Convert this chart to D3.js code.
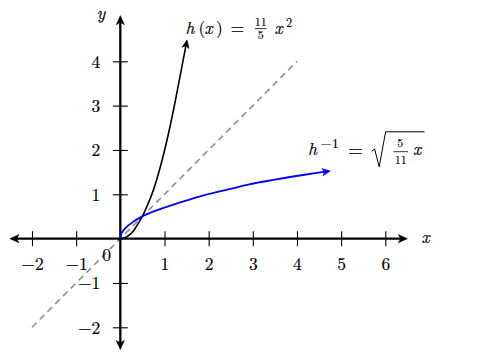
<!DOCTYPE html>
<html>
<head>
<meta charset="utf-8">
<script src="https://cdn.jsdelivr.net/npm/d3@7"></script>
<style>
  html, body { margin: 0; padding: 0; background: #fff; }
  svg { display: block; }
</style>
</head>
<body>
<svg id="chart" width="477" height="359"></svg>
<script>
// ---- data ----
const xTicks = [-2, -1, 1, 2, 3, 4, 5, 6];
const yTicks = [-2, -1, 1, 2, 3, 4];
const xAxisRange = [-2.5, 6.5];
const yAxisRange = [-2.5, 5.03];

// h(x) = 11/5 x^2 (black)
const hX = [0, 0.1, 0.2, 0.3, 0.475, 0.6, 0.75, 0.9, 1.056, 1.21, 1.35, 1.51];
const hY = [0, 0.02, 0.08, 0.18, 0.46, 0.72, 1.1, 1.6, 2.22, 2.93, 3.65, 4.48];

// h^{-1} = sqrt(5/11 x) (blue)
const invX = [0, 0.01, 0.05, 0.12, 0.25, 0.475, 0.8, 1.3, 1.81, 2.4, 2.94, 3.5, 4.1, 4.755];
const invY = [0, 0.075, 0.16, 0.245, 0.35, 0.49, 0.63, 0.8, 0.955, 1.1, 1.23, 1.33, 1.43, 1.525];

// y = x (dashed gray)
const idX = [-2, 4];
const idY = [-2, 4];

// ---- drawing ----
const FONT = '"Latin Modern Roman", "Liberation Serif", serif';
const TEXT_STROKE = 0.2;
const svg = d3.select("#chart");
const x = d3.scaleLinear().domain([-2, 6]).range([32, 385.3]);
const y = d3.scaleLinear().domain([-2, 4]).range([327.3, 61.3]);
const x0 = x(0), y0 = y(0);
const fmt = d => (d < 0 ? "\u2212" + Math.abs(d) : String(d));

function arrowHead(tipX, tipY, angle, len, half, color) {
  const p = `M0,0 L${-len},${-half} L${-len * 0.72},0 L${-len},${half} Z`;
  svg.append("path")
    .attr("d", p)
    .attr("fill", color)
    .attr("stroke", color)
    .attr("stroke-width", 0.6)
    .attr("stroke-linejoin", "round")
    .attr("transform", `translate(${tipX},${tipY}) rotate(${angle * 180 / Math.PI})`);
}

// dashed identity line
const line = d3.line().x(d => x(d[0])).y(d => y(d[1]));
svg.append("path")
  .datum(d3.zip(idX, idY))
  .attr("d", line)
  .attr("fill", "none")
  .attr("stroke", "#8e8e8e")
  .attr("stroke-width", 1.6)
  .attr("stroke-dasharray", "6.5,4.5");

// axes (ticks through d3 axes)
const gx = svg.append("g")
  .attr("transform", `translate(0,${y0})`)
  .call(d3.axisBottom(x).tickValues(xTicks).tickFormat(fmt).tickSizeOuter(0));
gx.select(".domain").remove();
gx.selectAll(".tick line").attr("y1", -7.5).attr("y2", 7.5).attr("stroke", "#000").attr("stroke-width", 1.1);
gx.selectAll(".tick text").attr("y", 31.4).attr("dy", 0).attr("fill", "#000")
  .attr("stroke", "#000").attr("stroke-width", TEXT_STROKE)
  .style("font-family", FONT).style("font-size", "17.5px");

const gy = svg.append("g")
  .attr("transform", `translate(${x0},0)`)
  .call(d3.axisLeft(y).tickValues(yTicks).tickFormat(fmt).tickSizeOuter(0));
gy.select(".domain").remove();
gy.selectAll(".tick line").attr("x1", -7.5).attr("x2", 7.5).attr("stroke", "#000").attr("stroke-width", 1.1);
gy.selectAll(".tick text").attr("x", -20).attr("dy", 6).attr("text-anchor", "end").attr("fill", "#000")
  .attr("stroke", "#000").attr("stroke-width", TEXT_STROKE)
  .style("font-family", FONT).style("font-size", "17.5px");

// axis lines with arrowheads on both ends
const axLen = 9, axHalf = 4;
svg.append("line")
  .attr("x1", x(xAxisRange[0]) + 6).attr("x2", x(xAxisRange[1]) - 6)
  .attr("y1", y0).attr("y2", y0)
  .attr("stroke", "#000").attr("stroke-width", 2.3);
arrowHead(x(xAxisRange[0]), y0, Math.PI, axLen, axHalf, "#000");
arrowHead(x(xAxisRange[1]), y0, 0, axLen, axHalf, "#000");
svg.append("line")
  .attr("x1", x0).attr("x2", x0)
  .attr("y1", y(yAxisRange[0]) - 6).attr("y2", y(yAxisRange[1]) + 6)
  .attr("stroke", "#000").attr("stroke-width", 2.3);
arrowHead(x0, y(yAxisRange[0]), Math.PI / 2, axLen, axHalf, "#000");
arrowHead(x0, y(yAxisRange[1]), -Math.PI / 2, axLen, axHalf, "#000");

// curves
const curve = d3.line().x(d => x(d[0])).y(d => y(d[1])).curve(d3.curveCatmullRom.alpha(0.5));
function drawCurve(xs, ys, color, width) {
  const pts = d3.zip(xs, ys);
  const n = pts.length;
  const a = pts[n - 2], b = pts[n - 1];
  const ang = Math.atan2(y(b[1]) - y(a[1]), x(b[0]) - x(a[0]));
  const path = svg.append("path")
    .datum(pts)
    .attr("d", curve)
    .attr("fill", "none")
    .attr("stroke", color)
    .attr("stroke-width", width)
    .attr("stroke-linecap", "butt");
  const L = path.node().getTotalLength();
  path.attr("stroke-dasharray", `${L - 5},1000`);
  arrowHead(x(b[0]), y(b[1]), ang, 8, 3.6, color);
}
drawCurve(hX, hY, "#000", 1.6);
drawCurve(invX, invY, "#0000ff", 1.8);

// text helper
function txt(px, py, s, opt = {}) {
  const t = svg.append("text")
    .attr("x", px).attr("y", py)
    .attr("text-anchor", opt.anchor || "start")
    .attr("fill", "#000")
    .attr("stroke", "#000")
    .attr("stroke-width", opt.size && opt.size < 14 ? 0.15 : TEXT_STROKE)
    .style("font-family", FONT)
    .style("font-size", (opt.size || 17.5) + "px")
    .text(s);
  if (opt.italic) t.style("font-style", "italic");
  if (opt.len) t.attr("textLength", opt.len).attr("lengthAdjust", "spacingAndGlyphs");
  return t;
}

// axis titles and origin label
txt(101, 18.5, "y", { italic: true, anchor: "middle" });
txt(425.5, 243, "x", { italic: true, anchor: "middle" });
txt(106.7, 261, "0", { anchor: "middle" });

// label h(x) = 11/5 x^2
txt(185.5, 34, "h", { italic: true });
txt(198.5, 34, "(");
txt(204.5, 34, "x", { italic: true });
txt(216, 34, ")");
txt(230.5, 34, "=", { len: 14 });
txt(260.8, 26, "11", { size: 12, anchor: "middle" });
svg.append("line").attr("x1", 255).attr("x2", 266.5).attr("y1", 28.6).attr("y2", 28.6)
  .attr("stroke", "#000").attr("stroke-width", 0.8);
txt(260.8, 38.5, "5", { size: 12, anchor: "middle" });
txt(274.5, 34, "x", { italic: true });
txt(286, 26.5, "2", { size: 12.5 });

// label h^{-1} = sqrt(5/11 x)
txt(308, 155, "h", { italic: true });
txt(320.5, 148, "\u22121", { size: 12.5, len: 18.5 });
txt(348, 155.5, "=", { len: 15 });
svg.append("path")
  .attr("d", "M371.7,151.2 L374.6,149 L379.2,166.8 L385.6,131.8 L424.5,131.8")
  .attr("fill", "none").attr("stroke", "#000").attr("stroke-width", 1)
  .attr("stroke-linejoin", "miter");
txt(400.3, 147, "5", { size: 12, anchor: "middle" });
svg.append("line").attr("x1", 393.5).attr("x2", 408).attr("y1", 151.7).attr("y2", 151.7)
  .attr("stroke", "#000").attr("stroke-width", 0.8);
txt(400.8, 163.5, "11", { size: 12, anchor: "middle" });
txt(413, 155, "x", { italic: true });
</script>
</body>
</html>
